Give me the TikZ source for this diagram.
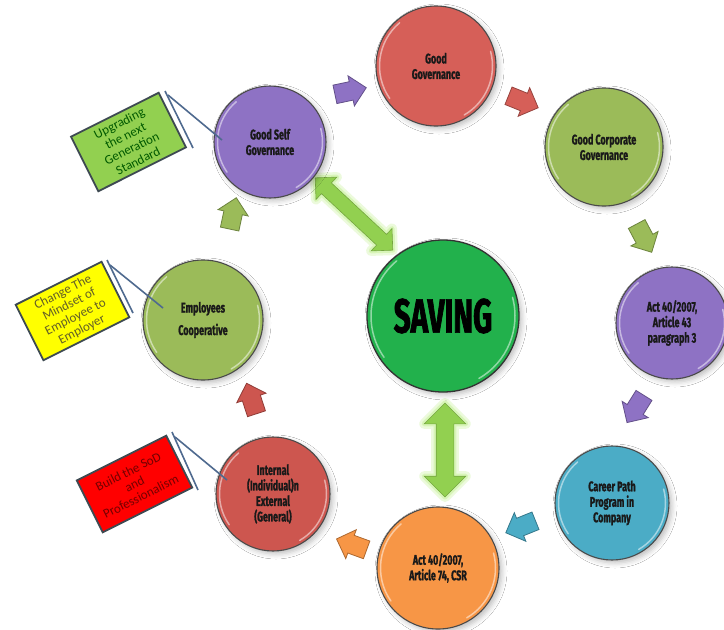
\documentclass[tikz,border=0pt]{standalone}
\usepackage{fontspec}
\newfontfamily\ballfont[FakeStretch=0.64, BoldFeatures={FakeBold=1.2}]{Fira Sans}
\newfontfamily\savefont[FakeStretch=0.62, BoldFeatures={FakeBold=1.5}]{Fira Sans}
\newfontfamily\notefont{Carlito}
\usetikzlibrary{shapes.arrows,shadows.blur,calc}

\definecolor{ringgray}{HTML}{4A4A4A}
\definecolor{purpleball}{HTML}{8E72C4}
\definecolor{redball}{HTML}{D65F58}
\definecolor{greenball}{HTML}{9BBB59}
\definecolor{blueball}{HTML}{4BACC6}
\definecolor{orangeball}{HTML}{F79646}
\definecolor{redball2}{HTML}{CD564F}
\definecolor{savegreen}{HTML}{22B14C}
\definecolor{noteedge}{HTML}{3E4A52}
\definecolor{pointerblue}{HTML}{4F6A8F}
\definecolor{notegreen}{HTML}{92D050}
\definecolor{noteyellow}{HTML}{FFFF00}
\definecolor{notered}{HTML}{FF0000}
\definecolor{linkgreen}{HTML}{92D050}
\definecolor{glowgreen}{HTML}{C9F29B}

\tikzset{
  ball/.style={circle, draw=ringgray, line width=1.1pt, inner sep=0pt,
    align=center, text=black!90,
    font=\ballfont\bfseries\fontsize{14}{15.5}\selectfont,
    blur shadow={shadow xshift=3pt, shadow yshift=-3pt, shadow blur radius=5pt, shadow opacity=25}},
  gloss/.style={white, opacity=.5, line width=1.5pt, line cap=round},
  note/.style={draw=noteedge, line width=1.8pt, rotate=26.6, align=center,
    inner sep=1pt, font=\notefont\fontsize{13}{14}\selectfont},
  pointer/.style={draw=pointerblue, line width=1.6pt},
  blk/.style={single arrow, single arrow head extend=6pt, minimum height=32pt,
    inner xsep=0pt, inner ysep=9pt, line width=0.8pt},
  link/.style={double arrow, inner xsep=0pt, fill=linkgreen,
    draw=linkgreen!80!black, line width=0.6pt,
    preaction={draw=glowgreen, line width=10pt, opacity=.35, line join=round},
    preaction={draw=glowgreen, line width=5pt, opacity=.55, line join=round}}
}

% ball: name, x, y, radius, colour, label
\newcommand\ball[6]{%
  \node[ball, fill=#5, minimum size=2*#4] (#1) at (#2,#3) {#6};
  \draw[gloss] (#2,#3) ++(-215:#4-3.5) arc[start angle=-215, end angle=-130, radius=#4-3.5];
  \draw[gloss] (#2,#3) ++(-15:#4-3.5) arc[start angle=-15, end angle=60, radius=#4-3.5];
}

\begin{document}
\begin{tikzpicture}[x=1pt,y=-1pt]
\fill[white] (0,0) rectangle (724,630);
\useasboundingbox (0,0) rectangle (724,630);

% links between the centre and the ring
\node[link, minimum height=106, inner ysep=7pt, double arrow head extend=8pt, rotate=-43] (la) at (354,214) {};
\node[link, minimum height=94, inner ysep=8.5pt, double arrow head extend=12pt, rotate=90] (lb) at (445,450) {};

% the ring of stages
\ball{gsg}{270}{142}{56}{purpleball}{Good Self\\Governance}
\ball{gg}{436}{66}{60}{redball}{Good\\Governance}
\ball{gcg}{604}{147}{59}{greenball}{Good Corporate\\Governance}
\ball{a43}{672}{323}{56}{purpleball}{Act 40/2007,\\Article 43\\paragraph 3}
\ball{cp}{612}{503}{57}{blueball}{Career Path\\Program in\\Company}
\ball{a74}{438}{568}{61}{orangeball}{Act 40/2007,\\Article 74, CSR}
\ball{int}{273}{494}{57}{redball2}{Internal\\(Individual)n\\External\\(General)}
\ball{emp}{203}{320}{60}{greenball}{Employees\\[7pt]Cooperative}

% centre
\node[ball, fill=savegreen, minimum size=152, draw=black!80, line width=1.3pt,
  font=\savefont\bfseries\fontsize{48}{52}\selectfont, text=black] (sav) at (443,316) {SAVING};
\draw[gloss] (443,316) ++(-215:72) arc[start angle=-215, end angle=-130, radius=72];
\draw[gloss] (443,316) ++(-15:72) arc[start angle=-15, end angle=60, radius=72];

% block arrows around the ring
\node[blk, fill=purpleball, draw=purpleball!70!black, rotate=12] (b1) at (346,92) {};
\node[blk, fill=redball, draw=redball!70!black, rotate=-22] (b2) at (519,100) {};
\node[blk, fill=greenball, draw=greenball!70!black, rotate=-62] (b3) at (642,234) {};
\node[blk, fill=purpleball, draw=purpleball!70!black, rotate=-122] (b4) at (638,405) {};
\node[blk, fill=blueball, draw=blueball!70!black, rotate=-158] (b5) at (525,525) {};
\node[blk, fill=orangeball, draw=orangeball!70!black, rotate=160] (b6) at (356,546) {};
\node[blk, fill=redball2, draw=redball2!70!black, rotate=108] (b7) at (253,403) {};
\node[blk, fill=greenball, draw=greenball!70!black, rotate=78] (b8) at (232,218) {};

% notes
\node[note, fill=notegreen, text=green!35!black, minimum width=98, minimum height=61] (n1) at (128.5,142)
  {Upgrading\\the next\\Generation\\Standard};
\node[note, fill=noteyellow, text=olive!60!black, minimum width=96, minimum height=62] (n2) at (72.5,311)
  {Change The\\Mindset of\\Employee to\\Employer};
\node[note, fill=notered, text=red!45!black, minimum width=100, minimum height=58] (n3) at (134.5,484)
  {Build the SoD\\and\\Professionalism};

% note pointers
\coordinate (p1a) at (165,91);  \coordinate (p1b) at (193,148);
\coordinate (p1c) at (168,95);  \coordinate (p1d) at (222,140);
\coordinate (p2a) at (107,260); \coordinate (p2b) at (133,313);
\coordinate (p2c) at (110,265); \coordinate (p2d) at (163,308);
\coordinate (p3a) at (172,432); \coordinate (p3b) at (198,490);
\coordinate (p3c) at (175,437); \coordinate (p3d) at (227,480);
\draw[pointer] (p1a) -- (p1b);
\draw[pointer] (p1c) -- (p1d);
\draw[pointer] (p2a) -- (p2b);
\draw[pointer] (p2c) -- (p2d);
\draw[pointer] (p3a) -- (p3b);
\draw[pointer] (p3c) -- (p3d);
\end{tikzpicture}
\end{document}
